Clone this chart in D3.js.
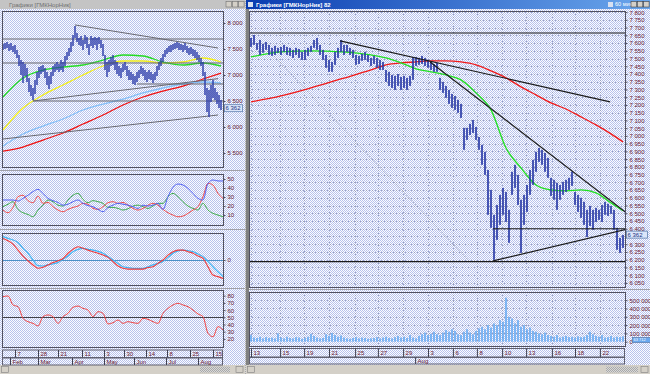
<!DOCTYPE html>
<html>
<head>
<meta charset="utf-8">
<script src="https://cdn.jsdelivr.net/npm/d3@7"></script>
<style>
  html, body { margin: 0; padding: 0; background: #c0c0c0; overflow: hidden; }
  svg { display: block; font-family: "Liberation Sans", Arial, sans-serif; }
</style>
</head>
<body>
<div id="chart"></div>
<script>
// ---------- right window: hourly bars ----------
const hrHigh = [
  7633,7652,7600,7620,7595,7607,7588,7569,7582,7569,
  7575,7588,7575,7569,7556,7569,7562,7543,7556,7569,
  7582,7620,7633,7588,7556,7523,7491,7478,7543,7569,
  7620,7588,7588,7569,7556,7523,7517,7530,7543,7523,
  7504,7517,7504,7491,7478,7426,7414,7394,7388,7400,
  7381,7388,7375,7388,7510,7510,7504,7517,7504,7491,
  7478,7465,7472,7375,7349,7323,7297,7271,7258,7233,
  7207,7052,7052,7078,7103,7058,6993,6942,6897,6780,
  6651,6490,6554,6619,6664,6638,6522,6768,6813,6748,
  6587,6619,6683,6780,6845,6897,6922,6910,6890,6858,
  6729,6716,6697,6683,6703,6716,6729,6768,6638,6619,
  6600,6574,6522,6548,6522,6535,6522,6554,6574,6561,
  6548,6522,6406,6341,6360
];
const hrLow = [
  7575,7588,7556,7523,7537,7556,7523,7517,7523,7537,
  7523,7543,7523,7517,7504,7523,7504,7491,7491,7517,
  7543,7569,7556,7523,7491,7440,7414,7414,7459,7504,
  7543,7523,7543,7523,7504,7459,7465,7485,7491,7478,
  7452,7465,7440,7426,7426,7349,7323,7310,7297,7323,
  7297,7310,7297,7323,7362,7452,7459,7465,7452,7440,
  7426,7414,7414,7297,7278,7246,7207,7181,7168,7149,
  7116,6910,6974,7006,7019,6974,6910,6813,6748,6490,
  6406,6199,6328,6425,6490,6444,6309,6619,6664,6554,
  6244,6425,6509,6619,6683,6768,6832,6813,6768,6729,
  6612,6587,6522,6587,6619,6638,6651,6677,6554,6509,
  6470,6425,6347,6418,6393,6444,6457,6444,6490,6483,
  6496,6393,6264,6244,6276
];
// volume, thousands
const hrVolume = [
  80,50,45,60,40,55,45,50,40,100,
  50,40,60,45,40,55,50,35,45,60,
  95,70,50,40,45,90,70,105,80,60,
  75,50,40,35,45,55,40,50,45,35,
  40,45,55,40,50,60,45,40,55,70,
  50,60,45,80,50,40,70,90,110,80,
  95,120,90,80,110,140,120,150,130,90,
  80,120,150,110,90,130,160,180,150,200,
  170,220,200,260,240,530,300,280,220,260,
  180,200,150,170,130,120,100,90,110,80,
  70,60,80,50,60,70,55,60,50,65,
  55,60,80,120,90,70,60,80,50,55,
  70,50,60,55,65
];
const hrMaIdx  = [0,10,20,30,40,45,50,55,60,65,70,75,80,85,90,95,100,105,110,115,120,124];
const hrMaFast = [7510,7543,7549,7543,7523,7504,7472,7433,7414,7394,7362,7278,7168,6922,6793,6683,6651,6645,6651,6632,6567,6516];
const hrMaSlow = [7220,7258,7310,7368,7426,7459,7472,7478,7485,7485,7478,7459,7420,7375,7317,7265,7213,7174,7123,7071,7013,6961];
const hrDateIdx = [0,9.7,17.7,26,34.7,42.3,50.7,59,67.3,75.3,83.7,91.7,100.3,108,116.3];
const hrDateLabels = ['13','15','19','21','25','27','29','3','6','8','10','13','16','18','22'];
const hrMonthIdx = [54.7];
const hrMonthLabels = ['Aug'];
const hrPriceTicks = d3.range(6050, 7801, 50);
const hrVolumeTicks = [0, 100, 200, 300, 400, 500];
const hrLastPrice = 6362;
const hrLastVolume = 63712;
// drawn lines: [idx1, price1, idx2, price2]
const hrLines = [
  [-0.7, 7665, 124.7, 7665],
  [-0.7, 6188, 124.7, 6188],
  [80.7, 6400, 124.7, 6400],
  [29.7, 7614, 119.7, 7220],
  [59.7, 7478, 124.7, 6509],
  [80.7, 6192, 124.7, 6395]
];
const hrDotted = [[5.7, 7556, 73, 6186]];

// ---------- left window: daily bars ----------
const dayHigh = [
  7596,7615,7635,7596,7615,7558,7577,7481,7385,7288,
  7250,7212,7135,6942,6808,6750,6904,7058,7154,7173,
  7192,7135,7058,6981,7058,7173,7212,7250,7212,7288,
  7250,7365,7442,7519,7635,7769,7942,7808,7712,7750,
  7673,7769,7731,7596,7750,7712,7731,7712,7731,7673,
  7596,7385,7250,7288,7346,7385,7288,7250,7173,7135,
  7212,7250,7173,7096,7058,7019,6981,7058,7096,7173,
  7135,7096,7058,7096,7058,7019,7058,7173,7250,7327,
  7404,7481,7519,7558,7577,7596,7615,7635,7615,7596,
  7577,7615,7558,7519,7538,7500,7481,7442,7385,7327,
  7250,7058,6750,6712,6808,6904,6750,6673,6615,6519
];
const dayLow = [
  7481,7500,7519,7462,7481,7442,7404,7327,7173,7000,
  6846,6981,6865,6673,6596,6519,6635,6808,6942,7019,
  7058,6942,6808,6731,6827,6981,7058,7096,7058,7096,
  7058,7173,7288,7365,7442,7558,7712,7635,7577,7558,
  7481,7596,7519,7385,7558,7519,7577,7481,7596,7519,
  7365,7096,6962,7058,7173,7192,7096,7019,6981,6942,
  7058,7096,6981,6904,6904,6827,6808,6865,6942,7019,
  6981,6904,6865,6923,6904,6846,6904,6981,7096,7173,
  7250,7346,7404,7442,7442,7481,7500,7519,7481,7481,
  7442,7481,7423,7385,7404,7365,7327,7288,7250,7173,
  6981,6615,6288,6192,6481,6558,6519,6442,6365,6327
];
const dayMaIdx = [0,10,20,30,40,50,60,70,80,90,100,109];
const dayMaGreen  = [6577,6942,7096,7154,7192,7288,7385,7365,7250,7192,7231,7173];
const dayMaYellow = [5942,6365,6615,6808,7000,7173,7269,7269,7231,7250,7327,7250];
const dayMaBlue   = [5635,5865,6019,6154,6327,6442,6538,6654,6750,6827,6865,6846];
const dayMaRed    = [5538,5615,5750,5885,6058,6231,6423,6577,6692,6788,6923,7038];
const dayLines = [
  [0, 7692, 110, 7692],
  [0, 7231, 110, 7231],
  [15, 6500, 110, 6500],
  [67, 6827, 110, 6827],
  [36, 7962, 107.5, 7519],
  [15, 6500, 107.5, 6930],
  [-1.5, 5763, 107.5, 6231]
];
const dayPriceTicks = [5500, 6000, 6500, 7000, 7500, 8000];
const dayDateIdx = [6,17.5,27.5,39.5,50.5,60.5,71.5,82,93.5,105];
const dayDateLabels = ['7','28','21','11','3','30','14','8','25','15'];
const dayMonthIdx = [3.5,17.5,34.5,50.5,65.5,81.5,97.5];
const dayMonthLabels = ['Feb','Mar','Apr','May','Jun','Jul','Aug'];

// indicators, sampled every 5 px (45 samples)
const dmiBlue = [26.7,26.7,26.7,25.5,28.5,32,36,38.5,34,28.5,26,24,21,22,24.8,26.7,23,20.4,19.3,16.3,13.7,18.5,21,23,22,21,19.3,17.4,21,20,21,23,16.3,30.4,40.7,44.4,43.3,39.6,34,28.5,26.7,45.2,48.9,47.8,47.8];
const dmiRed = [15.6,12.6,18.5,30.4,32,26,23.7,31,23,24,19.3,15.6,13.7,16.3,18.5,20,23,22,17.4,16.3,19.3,23.7,24.8,23,24,21,17.4,15.6,17.4,21,23,21,16.3,12.6,10,8.1,8.9,11.9,15.6,19.3,30.4,45.2,43.3,34,28.5];
const dmiGreen = [19.3,22,24.8,16.3,12.6,10.7,8.1,15.6,21,26.7,24.8,21,20,26.7,32,34,27.4,23.7,26,24.8,23,18.5,18.5,17.4,15.6,17,20,21,19.3,17.4,20,23,23,30.4,34,30.4,24.8,20,17.4,15.6,23,15.6,11.9,10,8.1];
const dmiTicks = [10, 20, 30, 40, 50];
const macdSignal = [0.90,0.83,0.77,0.67,0.45,0.26,0,-0.22,-0.23,-0.18,-0.15,-0.10,0.03,0.15,0.32,0.41,0.45,0.41,0.38,0.33,0.26,0.13,0,-0.13,-0.26,-0.29,-0.32,-0.32,-0.32,-0.26,-0.19,-0.13,-0.06,0.10,0.26,0.35,0.38,0.36,0.32,0.23,0.13,-0.06,-0.26,-0.45,-0.64];
const macdMain = [0.83,0.74,0.61,0.38,0.15,-0.03,-0.19,-0.32,-0.28,-0.19,-0.10,-0.03,0.06,0.26,0.41,0.51,0.45,0.38,0.32,0.26,0.19,0.10,-0.06,-0.23,-0.32,-0.35,-0.35,-0.35,-0.35,-0.29,-0.26,-0.13,0,0.19,0.32,0.38,0.38,0.32,0.26,0.15,0.06,-0.26,-0.58,-0.64,-0.71];
const rsiValues = [78.6,79.6,67.1,64.7,48.6,43.9,41.6,38,50.9,53.2,50.9,41.6,50.9,55.5,63.8,65.6,62.4,60.1,50.9,57.8,55.5,40.7,42.5,46.2,41.6,43.9,42.5,41.6,48.6,47.2,43.9,41.6,55.5,62.4,67.1,69.4,67.1,64.7,60.1,54.6,50.9,27.8,23,37,32.4];
const rsiTicks = [20, 30, 40, 50, 60, 70, 80];

// ---------- setup ----------
const W = 650, H = 374;
const fmtPrice = v => d3.format(',')(v).replace(/,/g, ' ');
const LABEL = '#6a2030';

const svg = d3.select('#chart').append('svg')
  .attr('width', W).attr('height', H);
const defs = svg.append('defs');

function checker(id, a, b) {
  const p = defs.append('pattern').attr('id', id)
    .attr('width', 2).attr('height', 2).attr('patternUnits', 'userSpaceOnUse');
  p.append('rect').attr('width', 2).attr('height', 2).attr('fill', a);
  p.append('rect').attr('width', 1).attr('height', 1).attr('fill', b);
  p.append('rect').attr('x', 1).attr('y', 1).attr('width', 1).attr('height', 1).attr('fill', b);
}
checker('dither', '#fcfdff', '#b8c2ec');
checker('grayDither', '#d8d8d8', '#a8a8a8');

const grad = defs.append('linearGradient').attr('id', 'titleGrad');
grad.append('stop').attr('offset', '0%').attr('stop-color', '#0a3cb0');
grad.append('stop').attr('offset', '100%').attr('stop-color', '#6aa6ec');

let clipCount = 0;
function clipped(x0, y0, x1, y1) {
  const id = 'clip' + (clipCount++);
  defs.append('clipPath').attr('id', id)
    .append('rect').attr('x', x0).attr('y', y0).attr('width', x1 - x0).attr('height', y1 - y0);
  return svg.append('g').attr('clip-path', `url(#${id})`);
}

function box(x0, y0, x1, y1) {
  svg.append('rect')
    .attr('x', x0 + 0.5).attr('y', y0 + 0.5)
    .attr('width', x1 - x0).attr('height', y1 - y0)
    .attr('fill', 'none').attr('stroke', '#505060');
}

function valueAxis(scale, ticks, xPos, fmt) {
  const g = svg.append('g')
    .attr('transform', `translate(${xPos + 0.5},0)`)
    .call(d3.axisRight(scale).tickValues(ticks).tickSize(2).tickPadding(2).tickFormat(fmt));
  g.select('.domain').remove();
  g.selectAll('line').attr('stroke', '#505060');
  g.selectAll('text').attr('font-size', 6).attr('fill', LABEL).attr('font-family', '"Liberation Sans", Arial, sans-serif');
  return g;
}

function dateRow(scale, ticks, labels, x0, x1, y0, h) {
  svg.append('rect').attr('x', x0 + 0.5).attr('y', y0 + 0.5)
    .attr('width', x1 - x0).attr('height', h)
    .attr('fill', 'none').attr('stroke', '#606070');
  const g = svg.append('g')
    .attr('transform', `translate(0,${y0 + 0.5})`)
    .call(d3.axisBottom(scale).tickValues(ticks).tickSize(h).tickFormat((d, i) => labels[i]));
  g.select('.domain').remove();
  g.selectAll('line').attr('stroke', '#404050');
  g.selectAll('text')
    .attr('x', 2).attr('y', h / 2).attr('dy', '0.35em')
    .attr('text-anchor', 'start')
    .attr('font-size', 6).attr('fill', LABEL)
    .attr('font-family', '"Liberation Sans", Arial, sans-serif');
}

function segLines(g, lines, x, y, color, width, dash) {
  g.selectAll(null).data(lines).enter().append('line')
    .attr('x1', d => x(d[0])).attr('y1', d => y(d[1]))
    .attr('x2', d => x(d[2])).attr('y2', d => y(d[3]))
    .attr('stroke', color).attr('stroke-width', width)
    .attr('stroke-dasharray', dash || null);
}

function curve(g, idx, values, x, y, color, width) {
  const line = d3.line()
    .x((d, i) => x(idx ? idx[i] : i))
    .y(d => y(d))
    .curve(d3.curveMonotoneX);
  g.append('path').datum(values)
    .attr('d', line).attr('fill', 'none')
    .attr('stroke', color).attr('stroke-width', width || 1);
}

function lastBox(x, yc, w, h, text, fill, color) {
  svg.append('rect').attr('x', x + 0.5).attr('y', yc - h / 2)
    .attr('width', w).attr('height', h)
    .attr('fill', fill).attr('stroke', '#6080b0').attr('stroke-width', 0.8);
  svg.append('text').attr('x', x + 1.5).attr('y', yc).attr('dy', '0.35em')
    .attr('font-size', h - 1).attr('fill', color).text(text);
}

// ---------- desktop + window chrome ----------
svg.append('rect').attr('width', W).attr('height', H).attr('fill', 'url(#grayDither)');

// left window
svg.append('rect').attr('x', 0).attr('y', 8).attr('width', 245).attr('height', 357).attr('fill', 'url(#dither)');
svg.append('rect').attr('x', 0).attr('y', 0).attr('width', 245).attr('height', 9).attr('fill', '#c4c4c4');
svg.append('text').attr('x', 9).attr('y', 4.5).attr('dy', '0.35em')
  .attr('font-size', 6).attr('fill', '#707070').text('Графики [ГМКНорНик]');
[0, 1, 2].forEach(k => {
  svg.append('rect').attr('x', 226 + k * 6.3).attr('y', 1.5).attr('width', 5.5).attr('height', 5.5)
    .attr('fill', '#d4d0c8').attr('stroke', '#707070').attr('stroke-width', 0.6);
});

// right window
svg.append('rect').attr('x', 246).attr('y', 8).attr('width', 404).attr('height', 357).attr('fill', 'url(#dither)');
svg.append('rect').attr('x', 246).attr('y', 8).attr('width', 3).attr('height', 357).attr('fill', '#808080');
svg.append('rect').attr('x', 246).attr('y', 0).attr('width', 404).attr('height', 9).attr('fill', 'url(#titleGrad)');
svg.append('rect').attr('x', 248).attr('y', 2).attr('width', 5).attr('height', 5).attr('fill', '#d8e0f0');
svg.append('text').attr('x', 256).attr('y', 4.5).attr('dy', '0.35em')
  .attr('font-size', 6).attr('font-weight', 'bold').attr('fill', '#ffffff').text('Графики [ГМКНорНик] 82');
svg.append('rect').attr('x', 608).attr('y', 2).attr('width', 5).attr('height', 5).attr('fill', '#d8e0f0');
svg.append('text').attr('x', 615).attr('y', 4.5).attr('dy', '0.35em')
  .attr('font-size', 5.5).attr('fill', '#ffffff').text('60 минут');
[0, 1, 2].forEach(k => {
  svg.append('rect').attr('x', 631 + k * 6.3).attr('y', 1.5).attr('width', 5.5).attr('height', 5.5)
    .attr('fill', '#d4d0c8').attr('stroke', '#404040').attr('stroke-width', 0.6);
});

// panel splitters
[170.5, 229.5, 288.5].forEach(y => {
  svg.append('line').attr('x1', 0).attr('x2', 245).attr('y1', y).attr('y2', y).attr('stroke', '#a0a0a8');
});
svg.append('line').attr('x1', 249).attr('x2', 650).attr('y1', 289.5).attr('y2', 289.5).attr('stroke', '#a0a0a8');

// scrollbars
[[0, 245], [246, 404]].forEach(([x, w]) => {
  svg.append('rect').attr('x', x).attr('y', 365).attr('width', w).attr('height', 9).attr('fill', '#d4d0c8');
  svg.append('rect').attr('x', x + 1.5).attr('y', 366.5).attr('width', 7).attr('height', 6)
    .attr('fill', '#d4d0c8').attr('stroke', '#808080').attr('stroke-width', 0.6);
  svg.append('rect').attr('x', x + w - 9).attr('y', 366.5).attr('width', 7).attr('height', 6)
    .attr('fill', '#d4d0c8').attr('stroke', '#808080').attr('stroke-width', 0.6);
});
svg.append('rect').attr('x', 606).attr('y', 366.5).attr('width', 32).attr('height', 6).attr('fill', 'url(#grayDither)');
svg.append('rect').attr('x', 200).attr('y', 366.5).attr('width', 30).attr('height', 6).attr('fill', 'url(#grayDither)');

// ---------- right window: hourly price chart ----------
const xR = d3.scaleLinear().domain([0, 124]).range([251, 623]);
const yR = d3.scaleLinear().domain([6030, 7820]).range([286, 9]);
const yV = d3.scaleLinear().domain([0, 590]).range([341.7, 292.7]);

const rMain = clipped(250, 12, 625, 287);
// grid
rMain.selectAll(null).data(hrPriceTicks).enter().append('line')
  .attr('x1', 249).attr('x2', 625)
  .attr('y1', d => Math.round(yR(d)) + 0.5).attr('y2', d => Math.round(yR(d)) + 0.5)
  .attr('stroke', '#9aa0bc').attr('stroke-dasharray', '1,2');
rMain.selectAll(null).data(hrDateIdx).enter().append('line')
  .attr('x1', d => Math.round(xR(d)) + 0.5).attr('x2', d => Math.round(xR(d)) + 0.5)
  .attr('y1', 11).attr('y2', 287)
  .attr('stroke', '#9aa0bc').attr('stroke-dasharray', '1,2');

segLines(rMain, hrDotted, xR, yR, '#8890a8', 1, '1,2');
curve(rMain, hrMaIdx, hrMaSlow, xR, yR, '#f01818', 1.3);
curve(rMain, hrMaIdx, hrMaFast, xR, yR, '#20e020', 1.3);

rMain.selectAll(null).data(hrHigh).enter().append('rect')
  .attr('x', (d, i) => xR(i) - 0.8)
  .attr('y', d => yR(d))
  .attr('width', 1.6)
  .attr('height', (d, i) => Math.max(1, yR(hrLow[i]) - yR(d)))
  .attr('fill', '#2233a4');

segLines(rMain, hrLines, xR, yR, '#1a1a1a', 1.2);
box(249, 11, 625, 287);
// the last-price marker covers the tick label next to it
const lastY = yR(hrLastPrice);
valueAxis(yR, hrPriceTicks.filter(t => Math.abs(yR(t) - lastY) > 5), 625, fmtPrice);
lastBox(626, lastY, 21, 7, fmtPrice(hrLastPrice), '#dce6fa', '#203080');

// volume
const rVol = clipped(250, 293, 625, 346);
rVol.selectAll(null).data(hrVolumeTicks.slice(1)).enter().append('line')
  .attr('x1', 249).attr('x2', 625)
  .attr('y1', d => Math.round(yV(d)) + 0.5).attr('y2', d => Math.round(yV(d)) + 0.5)
  .attr('stroke', '#9aa0bc').attr('stroke-dasharray', '1,2');
rVol.selectAll(null).data(hrDateIdx).enter().append('line')
  .attr('x1', d => Math.round(xR(d)) + 0.5).attr('x2', d => Math.round(xR(d)) + 0.5)
  .attr('y1', 292).attr('y2', 346)
  .attr('stroke', '#9aa0bc').attr('stroke-dasharray', '1,2');
rVol.selectAll(null).data(hrVolume).enter().append('rect')
  .attr('x', (d, i) => xR(i) - 0.75)
  .attr('y', d => yV(d))
  .attr('width', 1.5)
  .attr('height', d => yV(0) - yV(d))
  .attr('fill', '#5ea6f2');
box(249, 292, 625, 346);
valueAxis(yV, hrVolumeTicks, 625, d => d === 0 ? '0' : fmtPrice(d * 1000));
lastBox(632, 340, 18, 5, fmtPrice(hrLastVolume), '#6aa8ee', '#ffffff');

dateRow(xR, hrDateIdx, hrDateLabels, 249, 624, 348, 8.5);
dateRow(xR, hrMonthIdx, hrMonthLabels, 249, 624, 357, 6.5);

// ---------- left window: daily price chart ----------
const xL = d3.scaleLinear().domain([0, 109]).range([3, 221]);
const yL = d3.scaleLinear().domain([5237, 8217]).range([166.7, 11.7]);
const lMain = clipped(3, 12, 223, 167);

curve(lMain, dayMaIdx, dayMaRed, xL, yL, '#f01010', 1.3);
curve(lMain, dayMaIdx, dayMaBlue, xL, yL, '#84bff8', 1.3);
curve(lMain, dayMaIdx, dayMaYellow, xL, yL, '#f4f018', 1.3);
curve(lMain, dayMaIdx, dayMaGreen, xL, yL, '#22dc22', 1.3);
segLines(lMain, dayLines, xL, yL, '#686870', 1);

lMain.selectAll(null).data(dayHigh).enter().append('rect')
  .attr('x', (d, i) => xL(i) - 0.7)
  .attr('y', d => yL(d))
  .attr('width', 1.4)
  .attr('height', (d, i) => Math.max(1, yL(dayLow[i]) - yL(d)))
  .attr('fill', '#2838a8');
box(2, 11, 223, 167);
valueAxis(yL, dayPriceTicks, 223, fmtPrice);
lastBox(224, yL(hrLastPrice), 18, 7, fmtPrice(hrLastPrice), '#dce6fa', '#203080');

// indicator panels
const kx = d3.scaleLinear().domain([0, 44]).range([3, 223]);

const yDmi = d3.scaleLinear().domain([-1, 54.4]).range([225, 175]);
const p2 = clipped(3, 175, 223, 225);
curve(p2, null, dmiGreen, kx, yDmi, '#3caa48', 1);
curve(p2, null, dmiRed, kx, yDmi, '#f04a4a', 1);
curve(p2, null, dmiBlue, kx, yDmi, '#5060f4', 1);
box(2, 174, 223, 225);
valueAxis(yDmi, dmiTicks, 223, d => d);

const yMacd = d3.scaleLinear().domain([-1, 1]).range([286, 234]);
const p3 = clipped(3, 234, 223, 285);
p3.append('line').attr('x1', 3).attr('x2', 223)
  .attr('y1', Math.round(yMacd(0)) + 0.5).attr('y2', Math.round(yMacd(0)) + 0.5)
  .attr('stroke', '#4a90c8');
curve(p3, null, macdSignal, kx, yMacd, '#40b4f4', 1.2);
curve(p3, null, macdMain, kx, yMacd, '#f03a3a', 1.1);
box(2, 233, 223, 285);
valueAxis(yMacd, [0], 223, d => d);

const yRsi = d3.scaleLinear().domain([8.75, 87.9]).range([347, 290]);
const p4 = clipped(3, 291, 223, 347);
p4.append('line').attr('x1', 3).attr('x2', 223)
  .attr('y1', Math.round(yRsi(50)) + 0.5).attr('y2', Math.round(yRsi(50)) + 0.5)
  .attr('stroke', '#404048');
curve(p4, null, rsiValues, kx, yRsi, '#f04040', 1);
box(2, 290, 223, 347);
valueAxis(yRsi, rsiTicks, 223, d => d);

dateRow(xL, dayDateIdx, dayDateLabels, 2, 222, 349.5, 7.5);
dateRow(xL, dayMonthIdx, dayMonthLabels, 2, 222, 357.5, 7);
</script>
</body>
</html>
